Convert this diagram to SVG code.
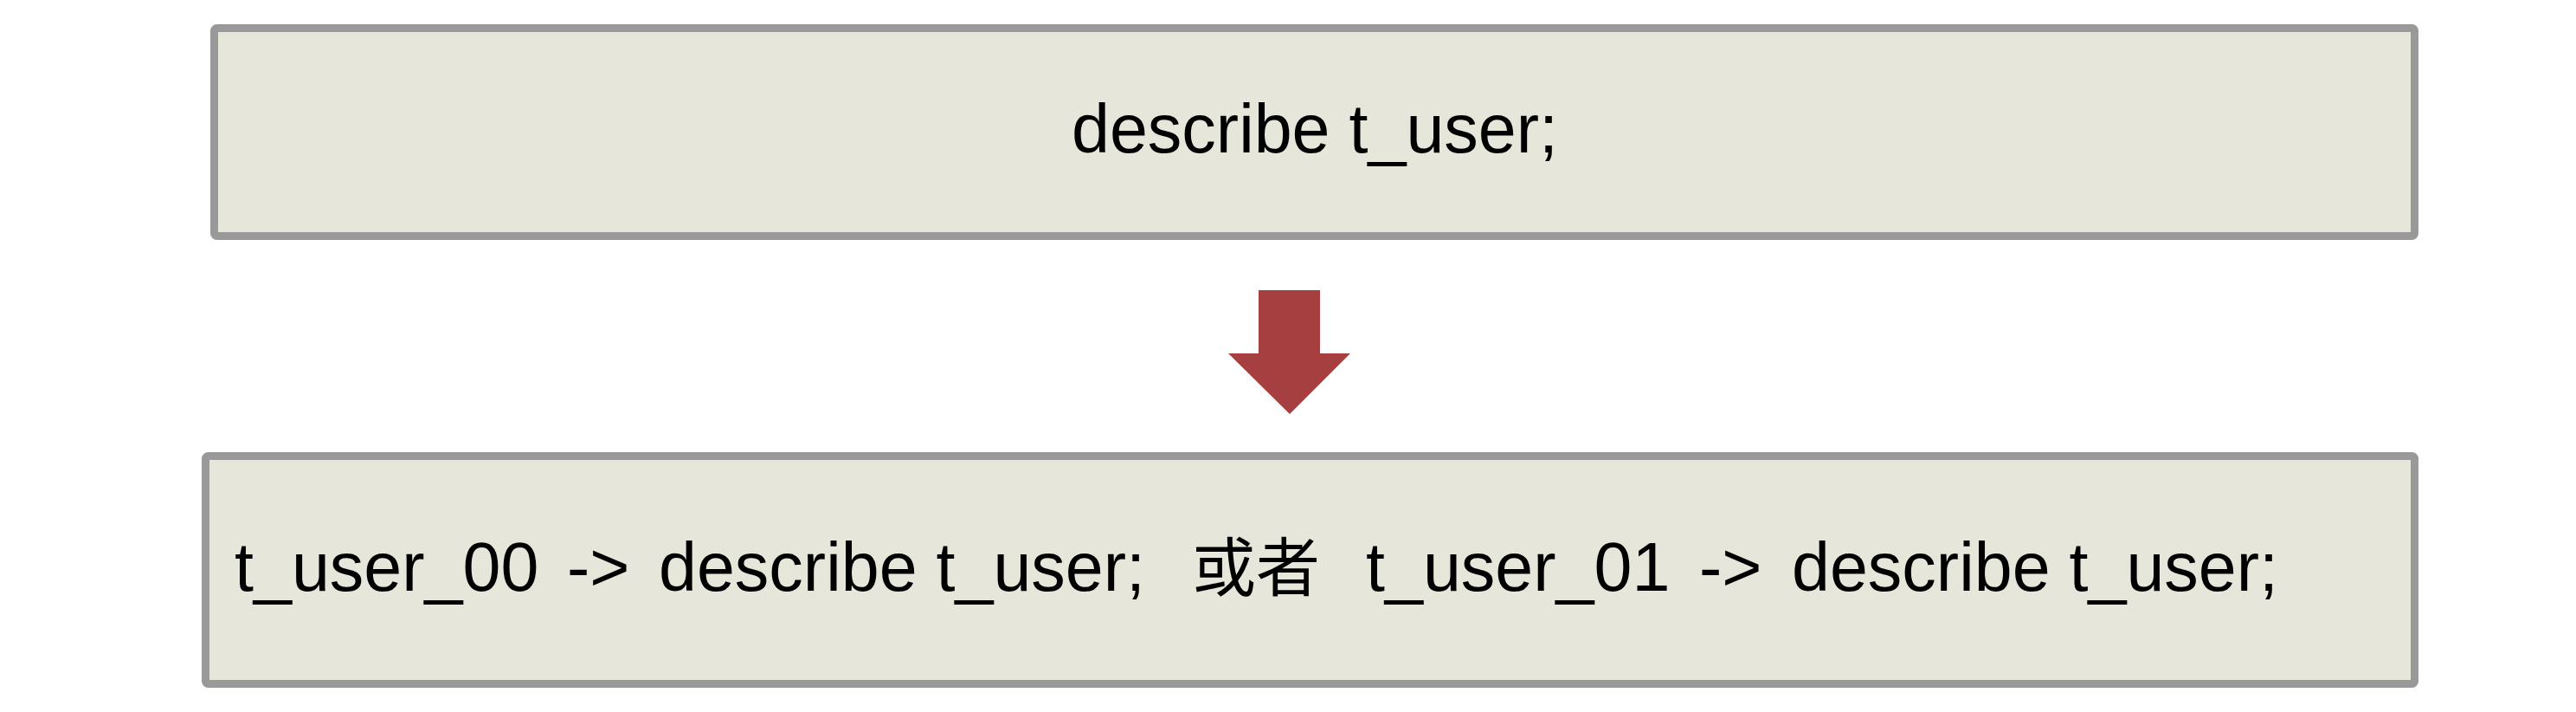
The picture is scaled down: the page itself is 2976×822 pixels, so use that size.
<svg xmlns="http://www.w3.org/2000/svg" width="2976" height="822" viewBox="0 0 2976 822">
<style>
.box{fill:#E7E6DA;stroke:#999999;stroke-width:9}
.t{font-family:"Liberation Sans",Arial,"Noto Sans CJK SC",sans-serif;font-size:79px;fill:#000}
.arrow{fill:#A63F3F}
</style>
<rect width="2976" height="822" fill="#FFFFFF"/>
<g id="node-top">
<rect class="box" x="247.5" y="32.5" width="2542" height="240" rx="3"/>
<text class="t" x="1519" y="176" text-anchor="middle">describe t_user;</text>
</g>
<g id="node-bottom">
<rect class="box" x="237.5" y="526.5" width="2552" height="263" rx="3"/>
<text class="t" y="682"><tspan x="271">t_user_00</tspan><tspan x="655">-&gt;</tspan><tspan x="761">describe t_user;</tspan><tspan x="1377" font-family="'Noto Sans CJK SC',sans-serif" font-size="74">或者</tspan><tspan x="1578">t_user_01</tspan><tspan x="1963">-&gt;</tspan><tspan x="2070">describe t_user;</tspan></text>
</g>
<g id="connectors">
<polygon class="arrow" points="1454,335 1525,335 1525,408 1560,408 1490,478 1419,408 1454,408"/>
</g>
</svg>
